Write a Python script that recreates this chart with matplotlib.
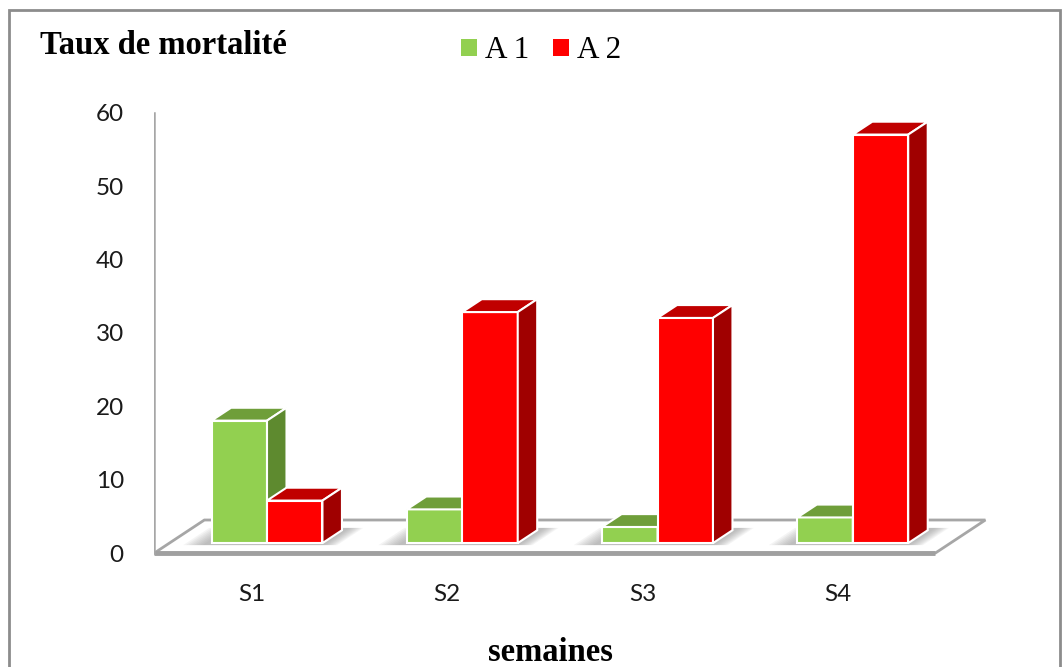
import matplotlib.pyplot as plt
import numpy as np
from matplotlib.patches import Polygon, Rectangle, Patch

categories = ['S1', 'S2', 'S3', 'S4']
a1 = [16.7, 4.6, 2.2, 3.5]
a2 = [5.8, 31.5, 30.7, 55.7]
yticks = [0, 10, 20, 30, 40, 50, 60]

# oblique depth projection: z in [0, 1] goes from floor front to floor back
KX, KY = 0.256, 4.5
Z0, Z1 = 0.30, 0.69
W = 0.284

green = ('#92D050', '#6F9E3A', '#5E8A2F')   # front, top, side
red = ('#FF0000', '#C00000', '#A00000')


def proj(x, y, z):
    return x + z * KX, y + z * KY


fig = plt.figure(figsize=(10.64, 6.67), dpi=100)
ax = fig.add_axes([0.1451, 0.1489, 0.8258, 0.7038])
ax.set_xlim(-0.5, 4.0)
ax.set_ylim(-2, 62)
for s in ax.spines.values():
    s.set_visible(False)

# floor slab
floor = [proj(-0.5, 0, 0), proj(3.5, 0, 0), proj(3.5, 0, 1), proj(-0.5, 0, 1)]
ax.add_patch(Polygon(floor, closed=True, facecolor='white', edgecolor='#A6A6A6',
                     lw=2, zorder=1))
ax.plot([-0.5, 3.5], [0, 0], color='#A0A0A0', lw=3.5, zorder=1.5,
        solid_capstyle='butt')
# value axis line
ax.plot([-0.5, -0.5], [0, 60], color='#A6A6A6', lw=1.8, zorder=1.5)


def shadow(xl, xr):
    # soft shadow of a group of bars on the floor
    for k in range(8):
        g = 0.13 - k * 0.014
        pts = [proj(xl - g, 0, Z0 - 0.06), proj(xr + g * 0.7, 0, Z0 - 0.06),
               proj(xr + g * 0.7, 0, Z1 + 0.07), proj(xl - g, 0, Z1 + 0.07)]
        ax.add_patch(Polygon(pts, closed=True, facecolor='#7F7F7F',
                             edgecolor='none', alpha=0.08, zorder=2))


def bar3d(x0, h, cols):
    fx, fy = proj(x0, 0, Z0)
    ax.bar(fx, h, bottom=fy, width=W, align='edge', color=cols[0],
           edgecolor='white', lw=1.5, zorder=4)
    top = [proj(x0, h, Z0), proj(x0 + W, h, Z0), proj(x0 + W, h, Z1), proj(x0, h, Z1)]
    side = [proj(x0 + W, 0, Z0), proj(x0 + W, h, Z0), proj(x0 + W, h, Z1), proj(x0 + W, 0, Z1)]
    ax.add_patch(Polygon(top, closed=True, facecolor=cols[1], edgecolor='white',
                         lw=1.5, zorder=4))
    ax.add_patch(Polygon(side, closed=True, facecolor=cols[2], edgecolor='white',
                         lw=1.5, zorder=4))


x = np.arange(len(categories))
for i in x:
    shadow(i - W, i + W)
for i in x:
    bar3d(i - W, a1[i], green)
    bar3d(i, a2[i], red)

ax.set_yticks(yticks)
ax.set_yticklabels([str(t) for t in yticks], fontfamily='Lato', fontsize=17.5,
                   color='#1A1A1A')
ax.set_xticks(x)
ax.set_xticklabels(categories, fontfamily='Lato', fontsize=17.5, color='#1A1A1A')
ax.tick_params(axis='y', length=0, pad=22)
ax.tick_params(axis='x', length=0, pad=12)

fig.text(40 / 1064, 1 - 54 / 667, 'Taux de mortalité', fontfamily='Liberation Serif',
         fontweight='bold', fontsize=23.5, va='baseline', ha='left')
fig.text(550 / 1064, 1 - 661 / 667, 'semaines', fontfamily='Liberation Serif',
         fontweight='bold', fontsize=23.5, va='baseline', ha='center')

handles = [Patch(facecolor=green[0], label='A 1'), Patch(facecolor=red[0], label='A 2')]
fig.legend(handles=handles, loc='center', bbox_to_anchor=(541 / 1064, 1 - 51 / 667),
           ncol=2, frameon=False, handlelength=0.52, handleheight=0.5,
           handletextpad=0.25, columnspacing=0.75,
           prop={'family': 'Liberation Serif', 'size': 22.5})

# chart frame
fig.add_artist(Rectangle((9 / 1064, -0.05), 1051 / 1064, 1.05 - 10 / 667,
                         transform=fig.transFigure, fill=False,
                         edgecolor='#8C8C8C', lw=2))

fig.savefig('out.png', dpi=100)
